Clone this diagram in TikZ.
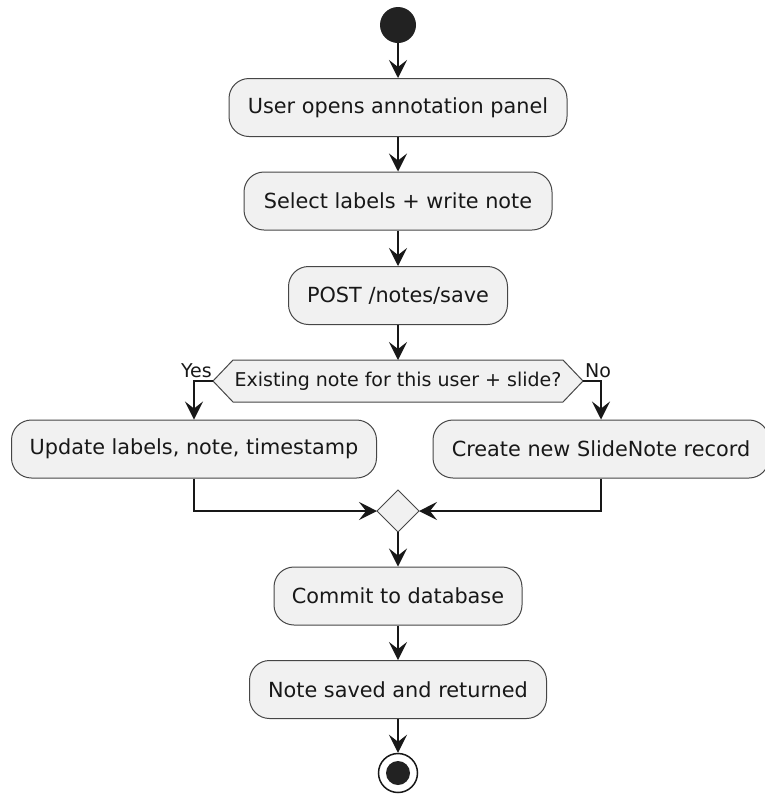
\documentclass[tikz,border=0pt]{standalone}
\usepackage{fontspec}
\setmainfont{DejaVu Sans}
\usetikzlibrary{arrows.meta}
\definecolor{boxfill}{HTML}{F1F1F1}
\definecolor{ink}{HTML}{181818}
\definecolor{dotfill}{HTML}{222222}

\begin{document}
\begin{tikzpicture}[x=1pt,y=-1pt,
  action/.style={draw=ink!80, line width=1pt, fill=boxfill, rounded corners=20pt,
    minimum height=58pt, inner sep=0pt, text=ink,
    font=\fontsize{20.8}{24}\selectfont},
  small/.style={inner sep=0pt, text=ink, font=\fontsize{19}{22}\selectfont},
  flow/.style={draw=ink, line width=1.5pt,
    -{Stealth[length=18pt,width=18pt,inset=7pt]}},
  shapeline/.style={draw=ink!80, line width=1pt, fill=boxfill, line join=miter}]

\useasboundingbox (0,0) rectangle (764,796);

% start and actions
\node[circle, fill=dotfill, minimum size=36pt, inner sep=0pt] (start) at (398,25) {};
\node[action, minimum width=338pt] (open) at (398,107.5) {User opens annotation panel};
\node[action, minimum width=308pt] (select) at (398,201) {Select labels + write note};
\node[action, minimum width=219pt] (post) at (398,295.5) {POST /notes/save};

% decision
\path[shapeline] (213,381) -- (233,360) -- (563,360) -- (583,381) -- (563,402) -- (233,402) -- cycle;
\node[small] (dec) at (398,381) {Existing note for this user + slide?};
\coordinate (decN) at (398,360);
\coordinate (decL) at (213,381);
\coordinate (decR) at (583,381);
\coordinate (yesTurn) at (194,381);
\coordinate (noTurn) at (601,381);
\node[small, anchor=base east] (yes) at (212,377) {Yes};
\node[small, anchor=base west] (no) at (585,377) {No};

\node[action, minimum width=365pt] (update) at (194,449) {Update labels, note, timestamp};
\node[action, minimum width=336pt] (create) at (601,449) {Create new SlideNote record};

% merge
\path[shapeline] (398,490) -- (419,511) -- (398,532) -- (377,511) -- cycle;
\coordinate (mE) at (419,511);
\coordinate (mS) at (398,532);
\coordinate (mW) at (377,511);
\coordinate (leftTurn) at (194,511);
\coordinate (rightTurn) at (601,511);

\node[action, minimum width=248pt] (commit) at (398,596) {Commit to database};
\node[action, minimum width=297pt] (saved) at (398,689.5) {Note saved and returned};

% end
\node[circle, draw=ink, line width=1.5pt, fill=white, minimum size=39pt, inner sep=0pt] (stop) at (398,773) {};
\node[circle, fill=dotfill, minimum size=24pt, inner sep=0pt] (stopdot) at (398,773) {};

% connectors
\draw[flow] (start) -- (open);
\draw[flow] (open) -- (select);
\draw[flow] (select) -- (post);
\draw[flow] (post) -- (decN);
\draw[flow] (decL) -- (yesTurn) -- (update.north);
\draw[flow] (decR) -- (noTurn) -- (create.north);
\draw[flow] (update.south) -- (leftTurn) -- (mW);
\draw[flow] (create.south) -- (rightTurn) -- (mE);
\draw[flow] (mS) -- (commit.north);
\draw[flow] (commit) -- (saved);
\draw[flow] (saved) -- (stop);
\end{tikzpicture}
\end{document}
